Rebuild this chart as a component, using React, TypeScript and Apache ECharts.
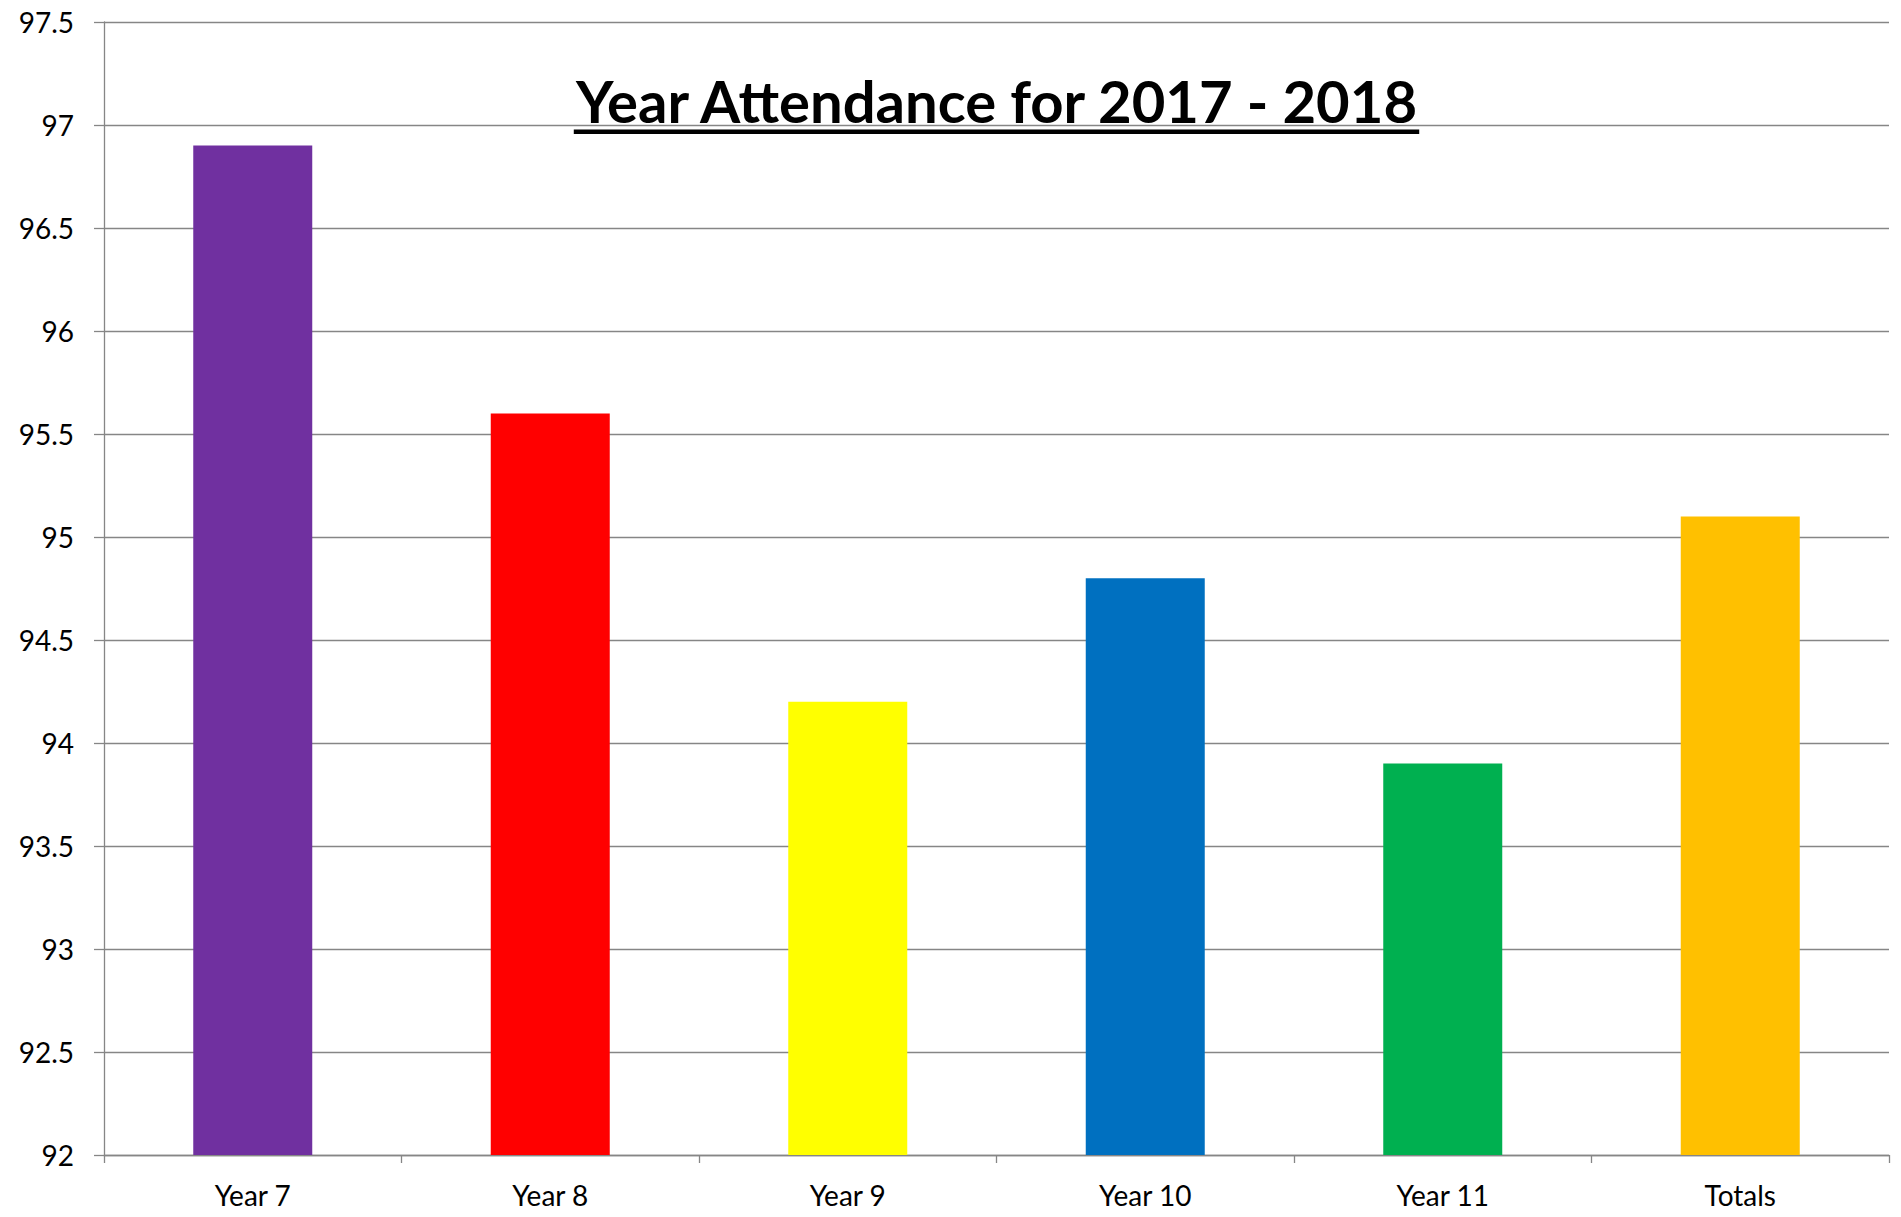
import React, { useEffect, useRef } from "react";
import * as echarts from "echarts";

const categories = ["Year 7", "Year 8", "Year 9", "Year 10", "Year 11", "Totals"];
const attendance = [96.9, 95.6, 94.2, 94.8, 93.9, 95.1];
const barColors = ["#7030A0", "#FF0000", "#FFFF00", "#0070C0", "#00B050", "#FFC000"];
const titleText = "Year Attendance for 2017 - 2018";

const W = 1901;
const H = 1217;
const GRID = { left: 104, right: 12, top: 22, bottom: 62 };
const TITLE_FONT = 'bold 58px Lato, "Open Sans", sans-serif';

export default function App() {
  const ref = useRef<HTMLDivElement>(null);
  useEffect(() => {
    document.body.style.margin = "0";
    const chart = echarts.init(ref.current!, null, { renderer: "svg", width: W, height: H });
    const cnv = document.createElement("canvas").getContext("2d")!;
    cnv.font = TITLE_FONT;
    const tw = cnv.measureText(titleText).width;
    const cx = GRID.left + (W - GRID.left - GRID.right) / 2;
    chart.setOption({
      animation: false,
      backgroundColor: "#ffffff",
      grid: { ...GRID, containLabel: false },
      xAxis: {
        type: "category",
        data: categories,
        boundaryGap: true,
        axisLine: { show: true, lineStyle: { color: "#868686", width: 1.3 } },
        axisTick: { show: true, length: 8, alignWithLabel: false, lineStyle: { color: "#868686", width: 1.3 } },
        axisLabel: { color: "#000000", fontSize: 28, fontFamily: "Lato, sans-serif", margin: 26 },
      },
      yAxis: {
        type: "value",
        min: 92,
        max: 97.5,
        interval: 0.5,
        axisLine: { show: true, lineStyle: { color: "#868686", width: 1.3 } },
        axisTick: { show: true, length: 10, lineStyle: { color: "#868686", width: 1.3 } },
        axisLabel: { color: "#000000", fontSize: 28, fontFamily: "Lato, sans-serif", margin: 30 },
        splitLine: { show: true, lineStyle: { color: "#868686", width: 1.3 } },
      },
      series: [
        {
          type: "bar",
          data: attendance.map((v, i) => ({ value: v, itemStyle: { color: barColors[i] } })),
          barCategoryGap: "60%",
        },
      ],
      graphic: [
        {
          type: "text",
          x: cx,
          y: 100.5,
          style: {
            text: titleText,
            font: TITLE_FONT,
            fill: "#000000",
            textAlign: "center",
            textVerticalAlign: "middle",
          },
          z: 10,
        },
        {
          type: "rect",
          shape: { x: cx - tw / 2, y: 129.5, width: tw, height: 4.5 },
          style: { fill: "#000000" },
          z: 10,
        },
      ],
    });
    return () => chart.dispose();
  }, []);
  return <div ref={ref} style={{ position: "fixed", left: 0, top: 0, width: W, height: H }} />;
}
